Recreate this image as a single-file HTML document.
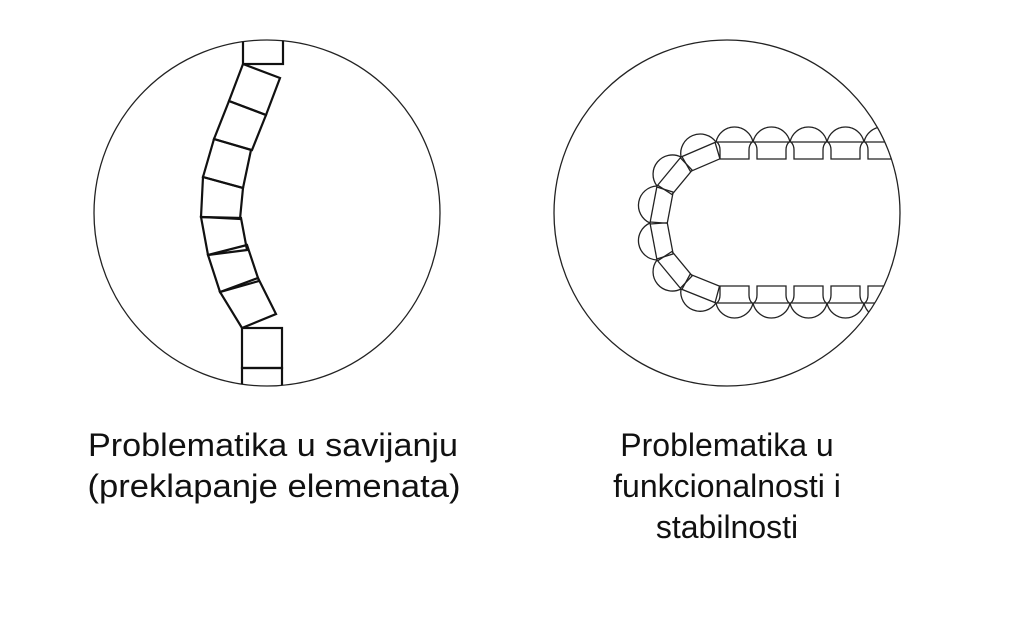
<!DOCTYPE html>
<html><head><meta charset="utf-8"><style>
html,body{margin:0;padding:0;background:#fff;width:1024px;height:623px;overflow:hidden}
svg{display:block}
text{font-family:"Liberation Sans",Arial,sans-serif;font-size:32px;fill:#111}
</style></head><body>
<svg id="s" width="1024" height="623" viewBox="0 0 1024 623" xmlns="http://www.w3.org/2000/svg">
<defs>
<clipPath id="c1"><circle cx="267" cy="213" r="173"/></clipPath>
<clipPath id="c2"><circle cx="727" cy="213" r="173"/></clipPath>
</defs>
<circle cx="267" cy="213" r="173" fill="none" stroke="#222" stroke-width="1.3"/>
<circle cx="727" cy="213" r="173" fill="none" stroke="#222" stroke-width="1.3"/>
<g clip-path="url(#c1)" fill="none" stroke="#111" stroke-width="2.2" stroke-linejoin="miter">
<rect x="243" y="30" width="40" height="34"/>
<polygon points="243,64 280,78 266,115 229,101"/>
<polygon points="229,101 266,115 252,150 214,139"/>
<polygon points="214,139 251,150 243,188 203,177"/>
<polygon points="203,177 243,188 240,219 201,217"/>
<polygon points="201,217 241,218 247,250 208,255"/>
<polygon points="208,255 247,245 259,281 220,292"/>
<polygon points="220,292 258,278 276,314 242,328"/>
<rect x="242" y="328" width="40" height="40"/>
<rect x="242" y="368" width="40" height="30"/>
</g>
<g id="g2" clip-path="url(#c2)" fill="none" stroke="#222" stroke-width="1.3"></g>
<text x="273" y="456" text-anchor="middle" textLength="370" lengthAdjust="spacingAndGlyphs">Problematika u savijanju</text>
<text x="274" y="497" text-anchor="middle" textLength="373" lengthAdjust="spacingAndGlyphs">(preklapanje elemenata)</text>
<text x="727" y="456" text-anchor="middle">Problematika u</text>
<text x="727" y="497" text-anchor="middle">funkcionalnosti i</text>
<text x="727" y="538" text-anchor="middle">stabilnosti</text>
</svg>
<script>
var g=document.getElementById('g2'),h='';
for(var i=0;i<6;i++){
 var u=716+37*i;
 h+='<path d="M'+u+',142 A18.9,18.9 0 0 1 '+(u+37)+',142"/>';
 h+='<line x1="'+u+'" y1="142" x2="'+(u+37)+'" y2="142"/>';
 h+='<path d="M'+(u+1)+',142 Q'+(u+4)+',145 '+(u+4)+',150 L'+(u+4)+',159 L'+(u+33)+',159 L'+(u+33)+',150 Q'+(u+33)+',145 '+(u+36)+',142"/>';
 h+='<path d="M'+u+',303 A18.9,18.9 0 0 0 '+(u+37)+',303"/>';
 h+='<line x1="'+u+'" y1="303" x2="'+(u+37)+'" y2="303"/>';
 h+='<path d="M'+(u+1)+',303 Q'+(u+4)+',300 '+(u+4)+',295 L'+(u+4)+',286 L'+(u+33)+',286 L'+(u+33)+',295 Q'+(u+33)+',300 '+(u+36)+',303"/>';
}
var P=[[716,142],[681,157],[657,186],[650,223],[657,260],[681,289],[716,303]];
for(var i=0;i<6;i++){
 var a=P[i],b=P[i+1],dx=b[0]-a[0],dy=b[1]-a[1],L=Math.hypot(dx,dy);
 var nx=-dy/L,ny=dx/L;
 var mx=(a[0]+b[0])/2,my=(a[1]+b[1])/2;
 if((700-mx)*nx+(222-my)*ny<0){nx=-nx;ny=-ny;}
 var r=L/2+0.5;
 var sweep=((dx*(-ny)-dy*(-nx))>0)?0:1;
 h+='<path d="M'+a+' A'+r+','+r+' 0 0 '+sweep+' '+b+'"/>';
 h+='<line x1="'+a[0]+'" y1="'+a[1]+'" x2="'+b[0]+'" y2="'+b[1]+'"/>';
 var d=17,t=3,ux=dx/L,uy=dy/L;
 var p1=[a[0]+ux*t+nx*d,a[1]+uy*t+ny*d],p2=[b[0]-ux*t+nx*d,b[1]-uy*t+ny*d];
 h+='<path d="M'+(a[0]+ux*1)+','+(a[1]+uy*1)+' L'+p1+' L'+p2+' L'+(b[0]-ux*1)+','+(b[1]-uy*1)+'"/>';
}
g.innerHTML=h;
</script>
</body></html>
